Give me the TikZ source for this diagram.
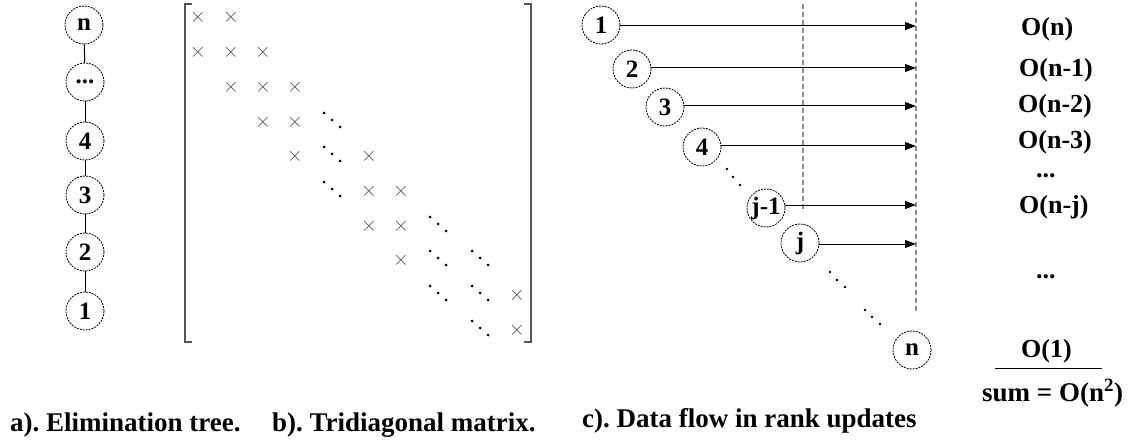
\documentclass[tikz,border=0pt]{standalone}
\usepackage{fontspec}
\setmainfont{Liberation Serif}
\usetikzlibrary{arrows.meta}
\definecolor{dgray}{RGB}{140,140,140}
\definecolor{xgray}{RGB}{85,85,85}
\frenchspacing
\begin{document}
\begin{tikzpicture}[x=1pt,y=-1pt,
  circ/.style={circle,draw,dash pattern=on 2pt off 1pt,line width=0.8pt,minimum size=38pt,inner sep=0pt,font=\fontsize{25}{26}\selectfont\bfseries},
  tedge/.style={line width=1pt},
  arr/.style={line width=1pt,-{Triangle[length=11pt,width=8pt]}},
  vline/.style={draw=dgray,line width=1.8pt,dash pattern=on 5pt off 3pt},
  cr/.style={inner sep=0pt,text=xgray,font=\fontsize{20}{20}\selectfont},
  lbl/.style={inner sep=0pt,anchor=base west,font=\fontsize{26}{28}\selectfont\bfseries},
  captext/.style={inner sep=0pt,anchor=base west,font=\fontsize{27}{29}\selectfont\bfseries},
  pdot/.style={fill=black,inner sep=0pt,minimum size=2.8pt,circle}
]
\useasboundingbox (0,0) rectangle (1130,441);

% ---------- a) elimination tree ----------
\node[circ] (tn) at (84,25) {n};
\node[circ] (td) at (85,82) {...};
\node[circ] (t4) at (85,141) {4};
\node[circ] (t3) at (85,195) {3};
\node[circ] (t2) at (85,252) {2};
\node[circ] (t1) at (85,311) {1};
\draw[tedge] (tn) -- (td);
\draw[tedge] (td) -- (t4);
\draw[tedge] (t4) -- (t3);
\draw[tedge] (t3) -- (t2);
\draw[tedge] (t2) -- (t1);

% ---------- b) tridiagonal matrix ----------
\draw[line width=1.2pt,draw=xgray] (192,4) -- (185,4) -- (185,342) -- (192,342);
\draw[line width=1.2pt,draw=xgray] (524,4) -- (531,4) -- (531,342) -- (524,342);
\foreach \xx/\yy [count=\i] in {198/17,231/17,
  198/52,231/52,263/52,
  231/87,263/87,295/87,
  263/122,295/122,
  295/156,369/156,
  369/191,401/191,
  369/226,401/226,
  401/260,
  517/295,
  517/330}
  \node[cr] (x\i) at (\xx,\yy) {$\times$};
\foreach \xx/\yy [count=\i] in {332/120,332/154,332/189,438/224,438/258,480/258,438/293,480/293,480/328}
  \foreach \d in {-1,0,1}
    \node[pdot,minimum size=3pt] (dd\i\d) at (\xx+8*\d,\yy+7*\d) {};

% ---------- c) data flow ----------
\coordinate (va) at (803,4);
\coordinate (vb) at (803,212);
\coordinate (wa) at (916,2);
\coordinate (wb) at (916,312);
\draw[vline] (va) -- (vb);
\draw[vline] (wa) -- (wb);

\node[circ] (c1) at (601,25) {1};
\node[circ] (c2) at (632,69) {2};
\node[circ] (c3) at (665,107) {3};
\node[circ] (c4) at (702,147) {4};
\node[circ] (cj1) at (766,208) {\makebox[0pt]{j-1}};
\node[circ] (cj) at (800,243) {j};
\node[circ] (cn) at (912,350) {n};

\coordinate (e1) at (916,26);
\coordinate (e2) at (916,68);
\coordinate (e3) at (916,106);
\coordinate (e4) at (916,146);
\coordinate (ej1) at (916,205);
\coordinate (ej) at (916,244);
\draw[arr] (c1.east |- e1) -- (e1);
\draw[arr] (c2.east |- e2) -- (e2);
\draw[arr] (c3.east |- e3) -- (e3);
\draw[arr] (c4.east |- e4) -- (e4);
\draw[arr] (cj1.east |- ej1) -- (ej1);
\draw[arr] (cj.east |- ej) -- (ej);

\foreach \xx/\yy [count=\i] in {727/169,733/177,740/185,830/272,837/280,845/287,865/310,872/317,880/324}
  \node[pdot] (p\i) at (\xx,\yy) {};

% ---------- complexity column ----------
\node[lbl] (o1) at (1021,36) {O(n)};
\node[lbl] (o2) at (1019,77) {O(n-1)};
\node[lbl] (o3) at (1018,113) {O(n-2)};
\node[lbl] (o4) at (1018,149) {O(n-3)};
\node[lbl] (o5) at (1036,177) {...};
\node[lbl] (o6) at (1019,213) {O(n-j)};
\node[lbl] (o7) at (1036,278) {...};
\node[lbl] (o8) at (1021,357) {O(1)};
\coordinate (la) at (995,368);
\coordinate (lb) at (1102,368);
\draw[line width=1pt] (la) -- (lb);
\node[lbl,font=\fontsize{27}{29}\selectfont\bfseries] (sum) at (982,401) {sum = O(n\textsuperscript{2})};

% ---------- captions ----------
\node[captext] (ca) at (10,431) {a). Elimination tree.};
\node[captext] (cb) at (272,431) {b). Tridiagonal matrix.};
\node[captext] (cc) at (582,427) {c). Data flow in rank updates};
\end{tikzpicture}
\end{document}
